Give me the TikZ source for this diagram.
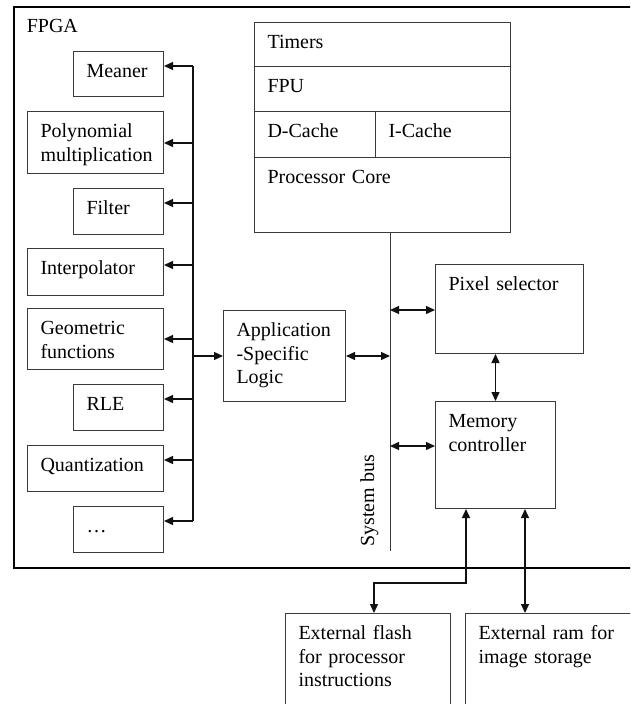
\documentclass[tikz,border=0pt]{standalone}
\usepackage{fontspec}
\setmainfont{Liberation Serif}
\usetikzlibrary{arrows.meta,calc}
\definecolor{BoxLine}{HTML}{3A3A3A}
\definecolor{WireInk}{HTML}{111111}
\tikzset{
  blk/.style={
    draw=BoxLine,
    line width=1pt,
    anchor=north west,
    inner xsep=13pt,
    inner ysep=0pt,
    align=left,
    text height=26pt,
    text depth=#1,
    font=\fontsize{20pt}{23.5pt}\selectfont
  },
  narrow/.style={blk=#1,text width=64pt},
  wide/.style={blk=#1,text width=110pt},
  link/.style={
    -{Triangle[length=9pt,width=8pt]},
    draw=WireInk,
    line width=1.3pt
  },
  both/.style={
    {Triangle[length=9pt,width=8pt]}-{Triangle[length=9pt,width=8pt]},
    draw=WireInk,
    line width=1.3pt
  }
}

\begin{document}
\begin{tikzpicture}[x=1pt,y=-1pt]
  \useasboundingbox (0,0) rectangle (630,704);
  \clip (0,0) rectangle (630,704);

  % The chip outline runs past the right edge.
  \node[blk=535pt,text width=621pt,draw=black,line width=1.6pt]
    (fpga) at (13,6) {FPGA};

  % Accelerator blocks on the left.
  \node[narrow=19pt] (meaner) at (73,51) {Meaner};
  \node[wide=36pt] (poly) at (27,111) {Polynomial\\multiplication};
  \node[narrow=20pt] (filter) at (73,188) {Filter};
  \node[wide=21pt] (interp) at (27,248) {Interpolator};
  \node[wide=35pt] (geom) at (27,308) {Geometric\\functions};
  \node[narrow=20pt] (rle) at (73,384) {RLE};
  \node[wide=20pt] (quant) at (27,445) {Quantization};
  \node[narrow=20pt] (more) at (73,506) {\ldots};

  \node[blk=65pt,text width=96pt] (asl) at (223,310)
    {Application\\-Specific\\Logic};

  % Processor stack.
  \node[blk=18pt,text width=230pt] (timers) at (254,22) {Timers};
  \node[blk=19pt,text width=230pt] (fpu) at (254,66) {FPU};
  \node[blk=20pt,text width=95pt] (dcache) at (254,111) {D-Cache};
  \node[blk=20pt,text width=109pt] (icache) at (375,111) {I-Cache};
  \node[blk=49pt,text width=230pt] (core) at (254,157) {Processor Core};

  \node[blk=63pt,text width=122pt] (pixel) at (435,264) {Pixel selector};
  \node[blk=81pt,text width=94pt] (memory) at (435,401) {Memory\\controller};

  % Off-chip memories.
  \node[blk=94pt,text width=139pt] (flash) at (285,613)
    {External flash\\for processor\\instructions};
  \node[blk=94pt,text width=150pt] (ram) at (465,613)
    {External ram for\\image storage};

  % System bus.
  \coordinate (bus-end) at (390,551);
  \draw[draw=BoxLine,line width=1pt] (core.south -| bus-end) -- (bus-end);
  \node[rotate=90,anchor=base west,inner sep=0pt,
        font=\fontsize{20pt}{23.5pt}\selectfont]
    (bus-label) at (374,547) {System bus};

  % Fan-out from the application logic to every block.
  \coordinate (fan-top) at (193,66);
  \coordinate (fan-bot) at (193,521);
  \draw[draw=WireInk,line width=1.3pt] (fan-top) -- (fan-bot);
  \foreach \unitname/\y in {meaner/66,poly/143,filter/203,interp/265,
                            geom/339,rle/399,quant/460,more/521}{
    \coordinate (tap-\unitname) at (193,\y);
    \draw[link] (tap-\unitname) -- (tap-\unitname -| \unitname.east);
  }
  \draw[link] (asl.west -| fan-top) -- (asl.west);

  % Bus taps.
  \coordinate (tap-pixel) at (390,310);
  \coordinate (tap-memory) at (390,446);
  \draw[both] (asl.east) -- (asl.east -| bus-end);
  \draw[both] (tap-pixel) -- (tap-pixel -| pixel.west);
  \draw[both] (tap-memory) -- (tap-memory -| memory.west);
  \draw[both] (memory.north) -- (memory.north |- pixel.south);

  % Memory controller to the external parts.
  \coordinate (flash-bend) at (466,583);
  \coordinate (flash-drop) at (374,583);
  \coordinate (ram-drop) at (525,583);
  \draw[both] (memory.south -| flash-bend) -- (flash-bend) -- (flash-drop)
    -- (flash-drop |- flash.north);
  \draw[both] (memory.south -| ram-drop) -- (ram-drop |- ram.north);
\end{tikzpicture}
\end{document}
